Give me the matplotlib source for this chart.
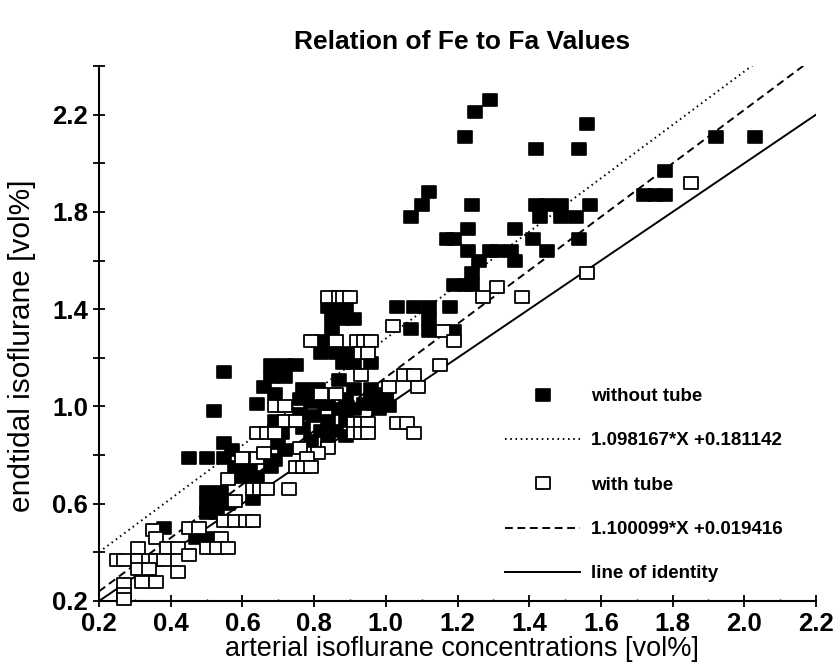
import matplotlib
matplotlib.use("Agg")
import matplotlib.pyplot as plt
from matplotlib.path import Path
from matplotlib.lines import Line2D
from matplotlib.ticker import FixedLocator, FuncFormatter
import numpy as np

plt.rcParams['font.family'] = ['Liberation Sans', 'DejaVu Sans']

# ---- data: without tube (filled squares) ----
without_x = [1.29, 1.25, 1.22, 1.42, 1.54, 1.56, 1.92, 2.03, 1.78, 1.72, 1.75, 1.78,
             1.24, 1.42, 1.45, 1.49, 1.57, 1.43, 1.49, 1.53, 1.23, 1.36, 1.17, 1.19, 1.41, 1.54,
             1.23, 1.29, 1.31, 1.35, 1.45, 1.26, 1.36, 1.24, 1.19, 1.22, 1.24, 1.18,
             1.12, 1.10, 1.07, 1.03, 1.08, 1.12, 1.12, 1.07, 1.12, 1.19,
             0.96, 1.00, 0.97, 1.01, 0.96, 1.00,
             0.84, 0.86, 0.89, 0.85, 0.88, 0.91, 0.85, 0.82, 0.82, 0.86, 0.89, 0.88, 0.91, 0.96,
             0.87, 0.91, 0.89, 0.84,
             0.55, 0.68, 0.72, 0.75, 0.68, 0.72, 0.66, 0.69, 0.64, 0.52,
             0.77, 0.81, 0.76, 0.79, 0.83, 0.87, 0.91, 0.76, 0.80, 0.84, 0.89, 0.77, 0.82, 0.86,
             0.89, 0.79, 0.84, 0.94, 0.98, 0.69, 0.69, 0.71, 0.70, 0.72, 0.66, 0.69, 0.68,
             0.55, 0.55, 0.57, 0.58, 0.62, 0.60, 0.64, 0.63, 0.45, 0.50,
             0.50, 0.54, 0.50, 0.52, 0.56, 0.50, 0.53, 0.47, 0.50, 0.38, 0.32]
without_y = [2.26, 2.21, 2.11, 2.06, 2.06, 2.16, 2.11, 2.11, 1.97, 1.87, 1.87, 1.87,
             1.83, 1.83, 1.83, 1.83, 1.83, 1.78, 1.78, 1.78, 1.73, 1.73, 1.69, 1.69, 1.69, 1.69,
             1.64, 1.64, 1.64, 1.64, 1.64, 1.60, 1.60, 1.55, 1.50, 1.50, 1.50, 1.41,
             1.88, 1.83, 1.78, 1.41, 1.41, 1.41, 1.36, 1.32, 1.31, 1.31,
             1.07, 1.05, 1.01, 1.00, 1.03, 1.03,
             1.41, 1.41, 1.41, 1.36, 1.36, 1.36, 1.31, 1.27, 1.22, 1.22, 1.22, 1.18, 1.18, 1.18,
             1.11, 1.07, 1.03, 1.01,
             1.14, 1.17, 1.17, 1.17, 1.12, 1.12, 1.08, 1.05, 1.01, 0.98,
             1.07, 1.07, 1.03, 1.02, 1.01, 0.99, 0.99, 0.97, 0.96, 0.94, 0.94, 0.91, 0.90, 0.90,
             0.88, 0.86, 0.86, 1.01, 0.99, 0.94, 0.90, 0.89, 0.85, 0.82, 0.80, 0.78, 0.75,
             0.85, 0.79, 0.82, 0.75, 0.75, 0.71, 0.71, 0.62, 0.79, 0.79,
             0.65, 0.65, 0.60, 0.60, 0.60, 0.56, 0.56, 0.46, 0.46, 0.50, 0.32]

# ---- data: with tube (open squares) ----
with_x = [1.85, 1.56, 1.31, 1.27, 1.38,
          1.02, 1.16, 1.19, 1.15, 1.05, 1.08, 1.09, 1.01,
          0.84, 0.87, 0.88, 0.90,
          0.79, 0.86, 0.92, 0.94, 0.96, 0.93, 0.95, 0.93,
          0.82, 0.86, 0.69, 0.72, 0.72, 0.75,
          0.91, 0.93, 0.95, 0.91, 0.93, 0.95, 1.03, 1.06, 1.08,
          0.64, 0.67, 0.69, 0.76, 0.84, 0.81, 0.78, 0.75, 0.77, 0.79,
          0.60, 0.64, 0.66, 0.56, 0.63, 0.65, 0.67, 0.73, 0.58,
          0.55, 0.58, 0.61, 0.63, 0.35, 0.36, 0.45, 0.48, 0.54,
          0.31, 0.39, 0.42, 0.45, 0.50, 0.53, 0.56,
          0.25, 0.27, 0.31, 0.34, 0.36, 0.38, 0.42, 0.31, 0.34,
          0.32, 0.36, 0.27, 0.27, 0.27]
with_y = [1.92, 1.55, 1.49, 1.45, 1.45,
          1.33, 1.31, 1.27, 1.17, 1.13, 1.13, 1.08, 1.08,
          1.45, 1.45, 1.45, 1.45,
          1.27, 1.27, 1.27, 1.27, 1.27, 1.22, 1.22, 1.13,
          1.05, 1.05, 1.00, 1.00, 0.94, 0.94,
          0.93, 0.93, 0.93, 0.89, 0.89, 0.89, 0.93, 0.93, 0.89,
          0.89, 0.89, 0.89, 0.83, 0.83, 0.81, 0.79, 0.75, 0.75, 0.75,
          0.79, 0.79, 0.81, 0.70, 0.66, 0.66, 0.66, 0.66, 0.61,
          0.53, 0.53, 0.53, 0.53, 0.49, 0.46, 0.50, 0.50, 0.46,
          0.42, 0.42, 0.42, 0.39, 0.42, 0.42, 0.42,
          0.37, 0.37, 0.37, 0.37, 0.37, 0.37, 0.32, 0.33, 0.33,
          0.28, 0.28, 0.27, 0.23, 0.21]

# regression lines and legend labels
fit_without = (1.098167, 0.181142)
fit_with = (1.100099, 0.019416)
legend_labels = ["without tube", "1.098167*X +0.181142", "with tube",
                 "1.100099*X +0.019416", "line of identity"]
x_ticks = [0.2, 0.4, 0.6, 0.8, 1.0, 1.2, 1.4, 1.6, 1.8, 2.0, 2.2]
y_ticks = [0.2, 0.4, 0.6, 0.8, 1.0, 1.2, 1.4, 1.6, 1.8, 2.0, 2.2, 2.4]
y_labeled = [0.2, 0.6, 1.0, 1.4, 1.8, 2.2]

W, H = 836, 666
fig = plt.figure(figsize=(W / 100, H / 100), dpi=100)
ax = fig.add_axes([99 / W, (H - 601) / H, (816 - 99) / W, (601 - 66) / H])
ax.set_xlim(0.2, 2.2)
ax.set_ylim(0.2, 2.4)

rect = Path([(-0.6, -0.5), (0.6, -0.5), (0.6, 0.5), (-0.6, 0.5), (-0.6, -0.5)],
            [Path.MOVETO, Path.LINETO, Path.LINETO, Path.LINETO, Path.CLOSEPOLY])

xl = np.array([0.2, 2.2])
ax.plot(xl, fit_without[0] * xl + fit_without[1], color='black', lw=1.4,
        dashes=(0.8, 1.9))
ax.plot(xl, fit_with[0] * xl + fit_with[1], color='black', lw=1.4,
        dashes=(4.0, 2.4))
ax.plot(xl, xl, color='black', lw=1.4)

ms = 9.6
ax.plot(without_x, without_y, ls='none', marker=rect, ms=ms, mfc='black',
        mec='black', mew=1.2, clip_on=False, zorder=3)
ax.plot(with_x, with_y, ls='none', marker=rect, ms=ms, mfc='white',
        mec='black', mew=1.3, clip_on=False, zorder=4)

for s in ['top', 'right']:
    ax.spines[s].set_visible(False)
for s in ['left', 'bottom']:
    ax.spines[s].set_linewidth(1.5)

ax.xaxis.set_major_locator(FixedLocator(x_ticks))
ax.yaxis.set_major_locator(FixedLocator(y_ticks))
ax.xaxis.set_major_formatter(FuncFormatter(lambda v, p: f"{v:.1f}"))
ax.yaxis.set_major_formatter(FuncFormatter(
    lambda v, p: f"{v:.1f}" if any(abs(v - t) < 1e-6 for t in y_labeled) else ""))
ax.xaxis.set_minor_locator(FixedLocator([v + 0.1 for v in x_ticks[:-1]]))
ax.tick_params(axis='both', which='major', direction='inout', length=8, width=1.3,
               labelsize=18.5, pad=4)
ax.tick_params(axis='x', which='minor', direction='in', length=1.5, width=1.0)
for lab in ax.get_xticklabels() + ax.get_yticklabels():
    lab.set_fontweight('bold')

fig.text(462 / W, 1 - 42 / H, "Relation of Fe to Fa Values", ha='center', va='center',
         fontsize=19, fontweight='bold')
fig.text(462 / W, 1 - 649 / H, "arterial isoflurane concentrations [vol%]",
         ha='center', va='center', fontsize=19.5)
fig.text(22 / W, 1 - 346 / H, "endtidal isoflurane [vol%]", ha='center', va='center',
         rotation=90, fontsize=21.5)

handles = [
    Line2D([], [], ls='none', marker=rect, ms=ms, mfc='black', mec='black', mew=1.2),
    Line2D([], [], color='black', lw=1.4, dashes=(0.8, 1.9)),
    Line2D([], [], ls='none', marker=rect, ms=ms, mfc='white', mec='black', mew=1.3),
    Line2D([], [], color='black', lw=1.4, dashes=(4.0, 2.4)),
    Line2D([], [], color='black', lw=1.4),
]
leg = ax.legend(handles, legend_labels, loc='upper left',
                bbox_to_anchor=(505 / W, 1 - 388 / H), bbox_transform=fig.transFigure,
                frameon=False, borderpad=0, borderaxespad=0, handlelength=4.0,
                handletextpad=0.6, labelspacing=1.45,
                prop={'size': 13.5, 'weight': 'bold'})

fig.savefig("out.png", dpi=100)
